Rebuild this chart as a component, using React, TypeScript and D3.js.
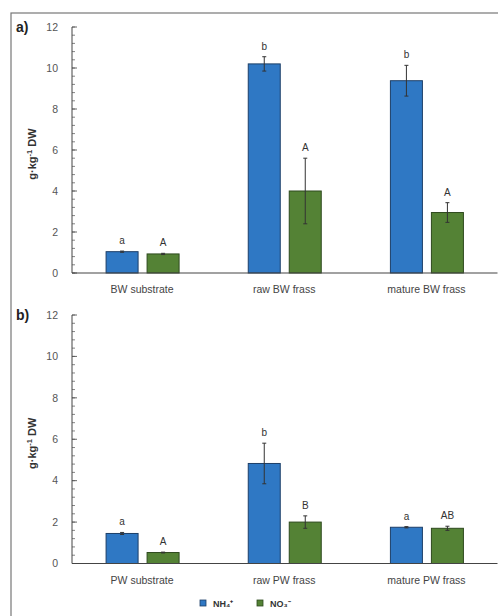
import { useEffect, useRef } from "react";
import * as d3 from "d3";

const W = 498;
const H = 616;

const seriesNames = ["NH₄⁺", "NO₃⁻"];
const colors = ["#2f78c4", "#548235"];
const strokes = ["#1d3f68", "#2e4a1e"];

const catsA = ["BW substrate", "raw BW frass", "mature BW frass"];
const nh4A = [1.04, 10.2, 9.38];
const nh4ErrA = [0.03, 0.35, 0.75];
const no3A = [0.93, 4.0, 2.95];
const no3ErrA = [0.03, 1.6, 0.48];
const lettersNh4A = ["a", "b", "b"];
const lettersNo3A = ["A", "A", "A"];

const catsB = ["PW substrate", "raw PW frass", "mature PW frass"];
const nh4B = [1.45, 4.83, 1.75];
const nh4ErrB = [0.05, 0.98, 0.03];
const no3B = [0.53, 2.0, 1.7];
const no3ErrB = [0.02, 0.3, 0.1];
const lettersNh4B = ["a", "b", "a"];
const lettersNo3B = ["A", "B", "AB"];

const yTicks = [0, 2, 4, 6, 8, 10, 12];

export default function App() {
  const svgRef = useRef<SVGSVGElement>(null);

  useEffect(() => {
    document.body.style.margin = "0";
    const svg = d3.select(svgRef.current);
    svg.selectAll("*").remove();
    svg.append("rect").attr("width", W).attr("height", H).attr("fill", "#fff");

    // frame
    svg.append("rect")
      .attr("x", 11).attr("y", 13).attr("width", W + 10).attr("height", H + 10)
      .attr("fill", "none").attr("stroke", "#777").attr("stroke-width", 1.2);

    const font = "Liberation Sans, Arial, sans-serif";

    const panel = (
      label: string, top: number, bottom: number, cats: string[],
      v1: number[], e1: number[], v2: number[], e2: number[], l1: string[], l2: string[]
    ) => {
      const g = svg.append("g");
      const x = d3.scaleBand().domain(cats).range([71, 497.5]).paddingInner(0).paddingOuter(0);
      const y = d3.scaleLinear().domain([0, 12]).range([bottom, top]);

      // minor ticks
      g.selectAll(".minor").data(d3.range(0, 12.001, 0.4)).join("line")
        .attr("x1", 72).attr("x2", 75).attr("y1", d => y(d)).attr("y2", d => y(d))
        .attr("stroke", "#666").attr("stroke-width", 0.8);
      g.selectAll(".major").data(yTicks).join("line")
        .attr("x1", 72).attr("x2", 77).attr("y1", d => y(d)).attr("y2", d => y(d))
        .attr("stroke", "#555").attr("stroke-width", 0.9);
      g.append("line").attr("x1", 72).attr("x2", 72).attr("y1", y(12)).attr("y2", y(0))
        .attr("stroke", "#444").attr("stroke-width", 1);
      g.selectAll(".ytl").data(yTicks).join("text")
        .attr("x", 58).attr("y", d => y(d)).attr("dy", "0.35em").attr("text-anchor", "end")
        .attr("font-family", font).attr("font-size", 10.5).attr("fill", "#555").text(d => d);

      const groups = [
        { vals: v1, errs: e1, lets: l1, off: -36, c: 0 },
        { vals: v2, errs: e2, lets: l2, off: 5, c: 1 },
      ];
      groups.forEach(s => {
        cats.forEach((cat, i) => {
          const cx = (x(cat) as number) + x.bandwidth() / 2;
          const bx = cx + s.off;
          const bw = 32;
          g.append("rect").attr("x", bx).attr("y", y(s.vals[i])).attr("width", bw)
            .attr("height", y(0) - y(s.vals[i]))
            .attr("fill", colors[s.c]).attr("stroke", strokes[s.c]).attr("stroke-width", 1);
          const mx = bx + bw / 2;
          const hi = s.vals[i] + s.errs[i];
          const lo = s.vals[i] - s.errs[i];
          g.append("line").attr("x1", mx).attr("x2", mx).attr("y1", y(hi)).attr("y2", y(lo))
            .attr("stroke", "#333").attr("stroke-width", 1);
          [hi, lo].forEach(v => g.append("line").attr("x1", mx - 2).attr("x2", mx + 2)
            .attr("y1", y(v)).attr("y2", y(v)).attr("stroke", "#333").attr("stroke-width", 1));
          g.append("text").attr("x", mx).attr("y", y(hi) - 7).attr("text-anchor", "middle")
            .attr("font-family", font).attr("font-size", 10).attr("fill", "#333").text(s.lets[i]);
        });
      });

      g.append("line").attr("x1", 72).attr("x2", 497.5).attr("y1", y(0)).attr("y2", y(0))
        .attr("stroke", "#444").attr("stroke-width", 1.2);
      cats.forEach(cat => {
        g.append("text").attr("x", (x(cat) as number) + x.bandwidth() / 2).attr("y", y(0) + 20)
          .attr("text-anchor", "middle").attr("font-family", font).attr("font-size", 10.5)
          .attr("fill", "#444").text(cat);
      });

      g.append("text").attr("x", 16).attr("y", top + 5).attr("font-family", font)
        .attr("font-size", 14).attr("font-weight", "bold").attr("fill", "#222").text(label);

      const ty = g.append("text")
        .attr("transform", `translate(36,${(top + bottom) / 2 + 4}) rotate(-90)`)
        .attr("text-anchor", "middle").attr("font-family", font).attr("font-size", 11)
        .attr("font-weight", "bold").attr("fill", "#333");
      ty.append("tspan").text("g·kg");
      ty.append("tspan").attr("dy", -4).attr("font-size", 7.5).text("-1");
      ty.append("tspan").attr("dy", 4).text(" DW");
    };

    panel("a)", 27, 273, catsA, nh4A, nh4ErrA, no3A, no3ErrA, lettersNh4A, lettersNo3A);
    panel("b)", 315, 563.5, catsB, nh4B, nh4ErrB, no3B, no3ErrB, lettersNh4B, lettersNo3B);

    // legend
    const legX = [200, 257];
    seriesNames.forEach((name, i) => {
      svg.append("rect").attr("x", legX[i]).attr("y", 600).attr("width", 6).attr("height", 6)
        .attr("fill", colors[i]).attr("stroke", strokes[i]).attr("stroke-width", 0.8);
      svg.append("text").attr("x", legX[i] + 13).attr("y", 607).attr("font-family", font)
        .attr("font-size", 9).attr("font-weight", "bold").attr("fill", "#333").text(name);
    });
  }, []);

  return <svg ref={svgRef} width={W} height={H} style={{ display: "block" }} />;
}
